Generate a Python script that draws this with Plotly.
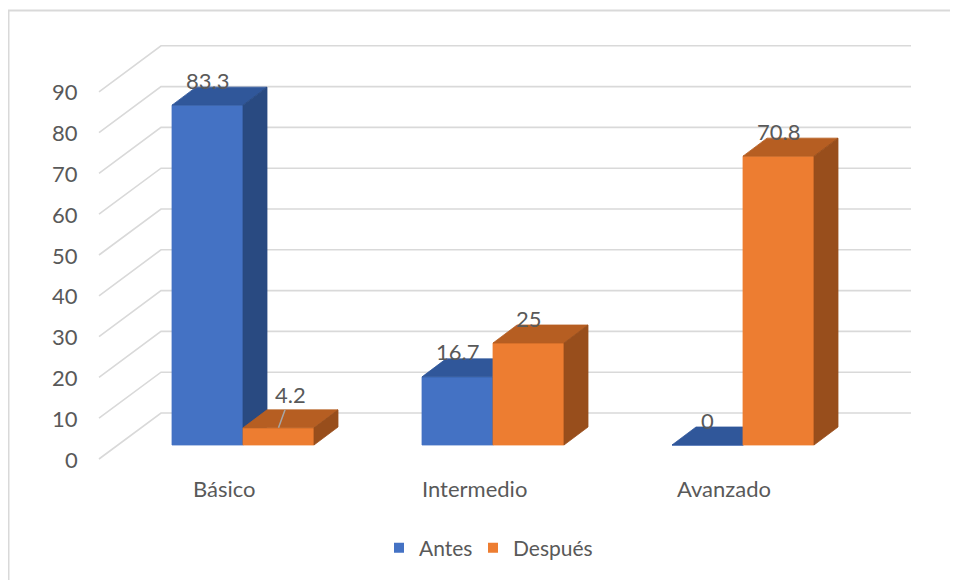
import plotly.graph_objects as go

# ---------------- data ----------------
categories = ["Básico", "Intermedio", "Avanzado"]
series_names = ["Antes", "Después"]
antes = [83.3, 16.7, 0]
despues = [4.2, 25, 70.8]
y_ticks = [0, 10, 20, 30, 40, 50, 60, 70, 80, 90]

# ---------------- style / geometry ----------------
W, H = 958, 580
PAGE_OFF = 8            # browser default body margin
PX_PER_CAT = 250.0      # pixels per category on the bar plane
PX_PER_UNIT = 4.08      # pixels per value unit
ORIGIN_PX = (243.0 - PAGE_OFF, 445.0 - PAGE_OFF)  # (category 0 boundary, value 0) on bar plane

def dxu(px):
    return px / PX_PER_CAT

def dyu(px):
    return px / PX_PER_UNIT

X_RANGE = [-ORIGIN_PX[0] / PX_PER_CAT, (W - ORIGIN_PX[0]) / PX_PER_CAT]
Y_RANGE = [-(H - ORIGIN_PX[1]) / PX_PER_UNIT, ORIGIN_PX[1] / PX_PER_UNIT]

FRONT = (dxu(-19), dyu(-14))   # floor front edge relative to bar plane
BACK = (dxu(43), dyu(32))      # back wall relative to bar plane
DEPTH = (dxu(24), dyu(18))     # bar depth
BAR_W = 0.284
X_LEFT, X_RIGHT = -0.5, len(categories) - 0.5

FONT = "Lato"
TXT = "#595959"
GRID = "#d9d9d9"
COLORS = {
    "Antes": {"front": "#4472C4", "top": "#30579A", "side": "#294A81"},
    "Después": {"front": "#ED7D31", "top": "#B65E22", "side": "#984E1C"},
}
LEGEND_LEFT_PX = {"Antes": 379, "Después": 473}   # page px of each legend box's left edge
LEGEND_Y_PX = 548

fig = go.Figure()

# ---- gridlines: diagonal on the left wall + horizontal on back wall ----
gx, gy = [], []
for v in y_ticks:
    gx += [X_LEFT + FRONT[0], X_LEFT + BACK[0], X_RIGHT + BACK[0], None]
    gy += [v + FRONT[1], v + BACK[1], v + BACK[1], None]
fig.add_trace(go.Scatter(x=gx, y=gy, mode="lines", line=dict(color=GRID, width=1.6),
                         hoverinfo="skip", showlegend=False))

# ---- 3D bars ----
series_values = {"Antes": antes, "Después": despues}
for s_idx, name in enumerate(series_names):
    vals = series_values[name]
    faces = {"front": ([], []), "top": ([], []), "side": ([], [])}
    for i, v in enumerate(vals):
        x0 = i - BAR_W + s_idx * BAR_W
        x1 = x0 + BAR_W
        ddx, ddy = DEPTH
        fx, fy = faces["front"]
        fx += [x0, x1, x1, x0, x0, None]
        fy += [0, 0, v, v, 0, None]
        tx, ty = faces["top"]
        tx += [x0, x1, x1 + ddx, x0 + ddx, x0, None]
        ty += [v, v, v + ddy, v + ddy, v, None]
        sx, sy = faces["side"]
        sx += [x1, x1 + ddx, x1 + ddx, x1, x1, None]
        sy += [0, ddy, v + ddy, v, 0, None]
    for face in ["front", "top", "side"]:
        fx, fy = faces[face]
        col = COLORS[name][face]
        fig.add_trace(go.Scatter(x=fx, y=fy, mode="lines", fill="toself", fillcolor=col,
                                 line=dict(color=col, width=0.8), hoverinfo="skip",
                                 showlegend=False))

# ---- legend entries (one legend box per series for exact placement) ----
legend_ids = {"Antes": "legend", "Después": "legend2"}
for name in series_names:
    fig.add_trace(go.Scatter(x=[None], y=[None], mode="markers", name=name,
                             legend=legend_ids[name],
                             marker=dict(symbol="square", size=10, color=COLORS[name]["front"])))

annotations = []
# y tick labels on the front edge of the left wall
for v in y_ticks:
    annotations.append(dict(x=X_LEFT + FRONT[0] - dxu(19), y=v + FRONT[1], text=str(v),
                            xanchor="right", yanchor="middle", showarrow=False,
                            font=dict(family=FONT, size=22, color=TXT)))
# category labels
for i, c in enumerate(categories):
    annotations.append(dict(x=i + FRONT[0], y=FRONT[1] - dyu(29), text=c,
                            xanchor="center", yanchor="middle", showarrow=False,
                            font=dict(family=FONT, size=22, color=TXT)))
# data labels
CALLOUT = {("Después", 0): (12, -33)}
for s_idx, name in enumerate(series_names):
    for i, v in enumerate(series_values[name]):
        xc = i - BAR_W / 2 + s_idx * BAR_W
        label = f"{v:g}"
        if (name, i) in CALLOUT:
            ax, ay = CALLOUT[(name, i)]
            annotations.append(dict(x=xc, y=v, text=label, showarrow=True, arrowhead=0,
                                    arrowwidth=1.5, arrowcolor="#A6A6A6", ax=ax, ay=ay,
                                    standoff=0, font=dict(family=FONT, size=22, color=TXT)))
        else:
            annotations.append(dict(x=xc, y=v + dyu(25), text=label, showarrow=False,
                                    xanchor="center", yanchor="middle",
                                    font=dict(family=FONT, size=22, color=TXT)))

def legend_box(name):
    return dict(orientation="h", x=(LEGEND_LEFT_PX[name] - PAGE_OFF) / W, xanchor="left",
                y=1 - (LEGEND_Y_PX - PAGE_OFF) / H, yanchor="middle",
                font=dict(family=FONT, size=21, color=TXT), bgcolor="rgba(0,0,0,0)",
                itemwidth=30)

fig.update_layout(
    width=W, height=H,
    margin=dict(l=0, r=0, t=0, b=0),
    paper_bgcolor="white", plot_bgcolor="white",
    xaxis=dict(range=X_RANGE, visible=False, fixedrange=True),
    yaxis=dict(range=Y_RANGE, visible=False, fixedrange=True),
    showlegend=True,
    legend=legend_box("Antes"),
    legend2=legend_box("Después"),
    annotations=annotations,
    shapes=[dict(type="rect", xref="paper", yref="paper", x0=0.5 / W, x1=1.02,
                 y0=-0.02, y1=1 - 2.5 / H, line=dict(color=GRID, width=2),
                 fillcolor="rgba(0,0,0,0)", layer="below")],
)

fig.write_html("out.html")
